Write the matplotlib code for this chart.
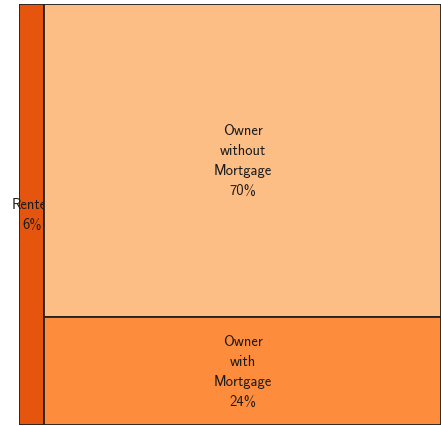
import matplotlib
matplotlib.use("Agg")
import matplotlib.pyplot as plt
from matplotlib.patches import Rectangle

# Data
labels = ["Renter", "Owner\nwithout\nMortgage", "Owner\nwith\nMortgage"]
values = [6, 70, 24]
colors = ["#e6550d", "#fdbe85", "#fd8d3c"]

plt.rcParams["font.family"] = ["cmss10", "DejaVu Sans"]
plt.rcParams["axes.unicode_minus"] = False

fig = plt.figure(figsize=(4.41, 4.27), dpi=100)
ax = fig.add_axes([19 / 441, 1.5 / 427, 422 / 441, 421 / 427])
ax.set_xlim(0, 1)
ax.set_ylim(0, 1)
ax.axis("off")

total = sum(values)
# first category: full-height column on the left
w0 = values[0] / total
rects = [(0, 0, w0, 1)]
rest = sum(values[1:])
y = 1
for v in values[1:]:
    h = v / rest
    rects.append((w0, y - h, 1 - w0, h))
    y -= h

for i, ((x0, y0, w, h), lab, v, c) in enumerate(zip(rects, labels, values, colors)):
    ax.add_patch(Rectangle((x0, y0), w, h, facecolor=c, edgecolor="#222222",
                           linewidth=1.3, zorder=2 + i * 2))
    ax.text(x0 + w / 2, y0 + h / 2, f"{lab}\n{v}%", ha="center", va="center",
            fontsize=10.5, linespacing=1.55, color="#1a1a1a", zorder=3 + i * 2 - (1 if i == 0 else 0))

fig.savefig("out.png", dpi=100)
